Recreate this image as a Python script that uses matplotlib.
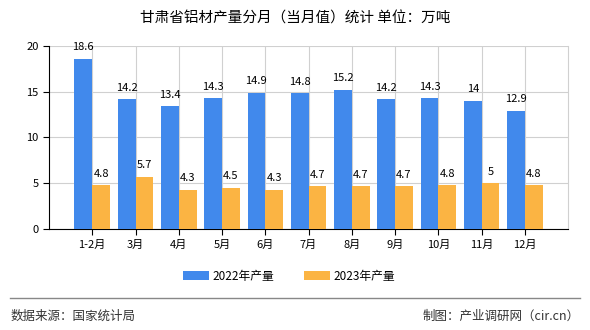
import matplotlib
matplotlib.use('Agg')
import matplotlib.pyplot as plt
import numpy as np

plt.rcParams['font.family'] = ['Noto Sans CJK SC', 'DejaVu Sans']

months = ['1-2月', '3月', '4月', '5月', '6月', '7月', '8月', '9月', '10月', '11月', '12月']
v2022 = [18.6, 14.2, 13.4, 14.3, 14.9, 14.8, 15.2, 14.2, 14.3, 14, 12.9]
v2023 = [4.8, 5.7, 4.3, 4.5, 4.3, 4.7, 4.7, 4.7, 4.8, 5, 4.8]
lab2022 = ['18.6', '14.2', '13.4', '14.3', '14.9', '14.8', '15.2', '14.2', '14.3', '14', '12.9']
lab2023 = ['4.8', '5.7', '4.3', '4.5', '4.3', '4.7', '4.7', '4.7', '4.8', '5', '4.8']

c_blue = '#4189EC'
c_orange = '#FBB443'

fig = plt.figure(figsize=(5.9, 3.3), dpi=100)
ax = fig.add_axes([0.083, 0.306, 0.880, 0.555])

x = np.arange(len(months))
w = 0.41
b1 = ax.bar(x - w / 2, v2022, w, color=c_blue, label='2022年产量', zorder=3)
b2 = ax.bar(x + w / 2, v2023, w, color=c_orange, label='2023年产量', zorder=3)

# 数值标签
for r, t in zip(b1, lab2022):
    ax.text(r.get_x() + r.get_width() / 2, r.get_height() + 0.7, t,
            ha='center', va='bottom', fontsize=8, zorder=4)
for r, t in zip(b2, lab2023):
    ax.text(r.get_x() + r.get_width() / 2, r.get_height() + 0.7, t,
            ha='center', va='bottom', fontsize=8, zorder=4)

ax.set_xlim(-1, len(months))
ax.set_ylim(0, 20)
ax.set_yticks([0, 5, 10, 15, 20])
ax.set_xticks(list(x))
ax.set_xticklabels(months, fontsize=8)
ax.tick_params(axis='y', labelsize=8, length=4)
ax.tick_params(axis='x', length=4)
ax.grid(True, color='#D0D0D0', linewidth=0.8, zorder=0)
ax.spines['top'].set_visible(False)
ax.spines['right'].set_color('#D0D0D0')
ax.spines['left'].set_color('black')
ax.spines['bottom'].set_color('black')

fig.text(0.5, 0.945, '甘肃省铝材产量分月（当月值）统计 单位：万吨',
         ha='center', va='center', fontsize=10.5)

fig.legend(handles=[b1, b2], loc='center', bbox_to_anchor=(0.49, 0.163),
           ncol=2, frameon=False, fontsize=8.5, handlelength=2.2, handleheight=0.8,
           columnspacing=2.5, handletextpad=0.3)

fig.add_artist(plt.Line2D([0.017, 0.983], [0.097, 0.097], color='#888888',
                          linewidth=1, transform=fig.transFigure))
fig.text(0.017, 0.042, '数据来源：国家统计局', ha='left', va='center',
         fontsize=9, color='#333333')
fig.text(0.983, 0.042, '制图：产业调研网（cir.cn）', ha='right', va='center',
         fontsize=9, color='#333333')

fig.savefig('out.png', dpi=100)
